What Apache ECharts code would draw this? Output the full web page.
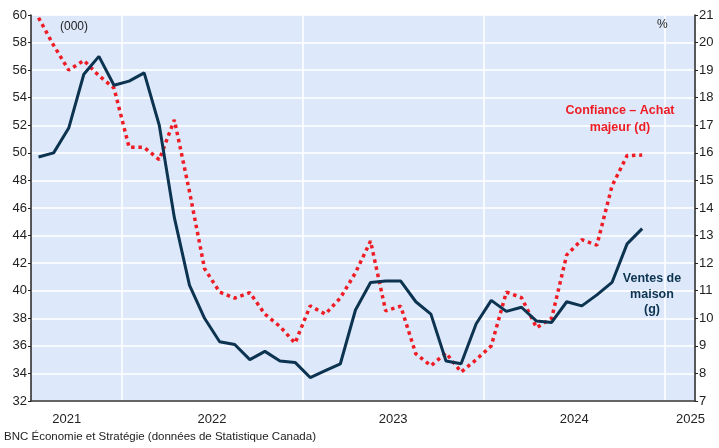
<!DOCTYPE html>
<html>
<head>
<meta charset="utf-8">
<script src="https://cdn.jsdelivr.net/npm/echarts@6/dist/echarts.min.js"></script>
<style>
  html, body { margin: 0; padding: 0; background: #fff; }
  #chart { width: 719px; height: 448px; }
</style>
</head>
<body>
<div id="chart"></div>
<script>
var chart = echarts.init(document.getElementById('chart'));

// monthly categories, Jul 2021 -> Feb 2025
var months = [
  '2021-07','2021-08','2021-09','2021-10','2021-11','2021-12',
  '2022-01','2022-02','2022-03','2022-04','2022-05','2022-06',
  '2022-07','2022-08','2022-09','2022-10','2022-11','2022-12',
  '2023-01','2023-02','2023-03','2023-04','2023-05','2023-06',
  '2023-07','2023-08','2023-09','2023-10','2023-11','2023-12',
  '2024-01','2024-02','2024-03','2024-04','2024-05','2024-06',
  '2024-07','2024-08','2024-09','2024-10','2024-11','2024-12',
  '2025-01','2025-02'
];

// home sales (000), left axis
var ventes = [49.7, 50.0, 51.8, 55.7, 57.0, 54.9, 55.2, 55.8, 52.0, 45.3,
  40.4, 38.0, 36.3, 36.1, 35.0, 35.6, 34.9, 34.8, 33.7, 34.2,
  34.7, 38.6, 40.6, 40.7, 40.7, 39.2, 38.3, 34.9, 34.7, 37.6,
  39.3, 38.5, 38.8, 37.8, 37.7, 39.2, 38.9, 39.7, 40.6, 43.4, 44.5];

// confidence - major purchase (%), right axis
var confiance = [20.9, 19.9, 19.0, 19.35, 18.8, 18.35, 16.2, 16.2, 15.75, 17.2,
  14.6, 11.8, 10.95, 10.73, 10.93, 10.15, 9.7, 9.1, 10.45, 10.15,
  10.74, 11.65, 12.8, 10.27, 10.44, 8.71, 8.28, 8.74, 8.05, 8.5,
  9.0, 10.95, 10.75, 9.66, 10.0, 12.3, 12.85, 12.65, 14.8, 15.9, 15.92];

// year label shown under the category index, with its own shift style
var yearLabels = { 2: '{e|2021}', 11: '{m|2022}', 23: '{m|2023}', 35: '{m|2024}', 43: '{r|2025}' };

var navy = '#0c3350';
var red = '#ee1d25';
var txt = '#222';
var font = 'Liberation Sans, Arial, sans-serif';

function isJan(i) { return months[i] && months[i].slice(5) === '01'; }

var option = {
  animation: false,
  grid: {
    left: 31, right: 24, top: 15, bottom: 47,
    show: true, backgroundColor: '#dde9fa', borderWidth: 0
  },
  xAxis: [
    {
      type: 'category', data: months, boundaryGap: true,
      axisLine: { lineStyle: { color: '#333', width: 1.5 } },
      axisTick: { length: 4, interval: 0, lineStyle: { color: '#333', width: 1.2 } },
      axisLabel: {
        interval: function (i) { return yearLabels[i] !== undefined; },
        formatter: function (v, i) { return yearLabels[i] || ''; },
        margin: 12, color: txt, fontSize: 13, fontFamily: font,
        rich: {
          e: { fontSize: 13, fontFamily: font, color: txt, padding: [0, 4, 0, 0] },
          m: { fontSize: 13, fontFamily: font, color: txt, padding: [0, 0, 0, 15] },
          r: { fontSize: 13, fontFamily: font, color: txt, padding: [0, 0, 0, 6] }
        }
      },
      splitLine: {
        show: true,
        interval: function (i) { return isJan(i); },
        lineStyle: { color: '#ffffff', width: 1.5 }
      }
    },
    {
      type: 'category', data: months, boundaryGap: true, position: 'bottom',
      axisLine: { show: false },
      axisTick: {
        length: 7,
        interval: function (i) { return isJan(i); },
        lineStyle: { color: '#333', width: 1.2 }
      },
      axisLabel: { show: false },
      splitLine: { show: false }
    }
  ],
  yAxis: [
    {
      type: 'value', min: 32, max: 60, interval: 2,
      axisLine: { show: true, lineStyle: { color: '#222', width: 1.5 } },
      axisTick: { show: true, length: 3, lineStyle: { color: '#222' } },
      axisLabel: { color: txt, fontSize: 13, fontFamily: font, margin: 4 },
      splitLine: { show: true, lineStyle: { color: '#ffffff', width: 1.5 } }
    },
    {
      type: 'value', min: 7, max: 21, interval: 1,
      axisLine: { show: true, lineStyle: { color: '#222', width: 1.5 } },
      axisTick: { show: true, length: 3, lineStyle: { color: '#222' } },
      axisLabel: { color: txt, fontSize: 13, fontFamily: font, margin: 4 },
      splitLine: { show: false }
    }
  ],
  series: [
    {
      name: 'Ventes de maison (g)', type: 'line', xAxisIndex: 0, yAxisIndex: 0,
      data: ventes, symbol: 'none', z: 3,
      lineStyle: { color: navy, width: 3 }
    },
    {
      name: 'Confiance – Achat majeur (d)', type: 'line', xAxisIndex: 0, yAxisIndex: 1,
      data: confiance, symbol: 'none', z: 2,
      lineStyle: { color: red, width: 3.5, type: [3.5, 3.8] }
    }
  ],
  graphic: [
    { type: 'text', z: 100, left: 60, top: 21, style: { text: '(000)', fill: txt, font: '12px ' + font } },
    { type: 'text', z: 100, left: 657, top: 19, style: { text: '%', fill: txt, font: '12px ' + font } },
    {
      type: 'text', z: 100, x: 620, y: 102,
      style: { text: 'Confiance – Achat\nmajeur (d)', fill: red, font: 'bold 12.5px ' + font,
        align: 'center', lineHeight: 17 }
    },
    {
      type: 'text', z: 100, x: 652, y: 271,
      style: { text: 'Ventes de\nmaison\n(g)', fill: navy, font: 'bold 12.5px ' + font,
        align: 'center', lineHeight: 15.5 }
    },
    { type: 'text', z: 100, left: 4, top: 431, style: { text: 'BNC Économie et Stratégie (données de Statistique Canada)', fill: txt, font: '11.5px ' + font } }
  ]
};

chart.setOption(option);
window.onresize = chart.resize;
</script>
</body>
</html>
